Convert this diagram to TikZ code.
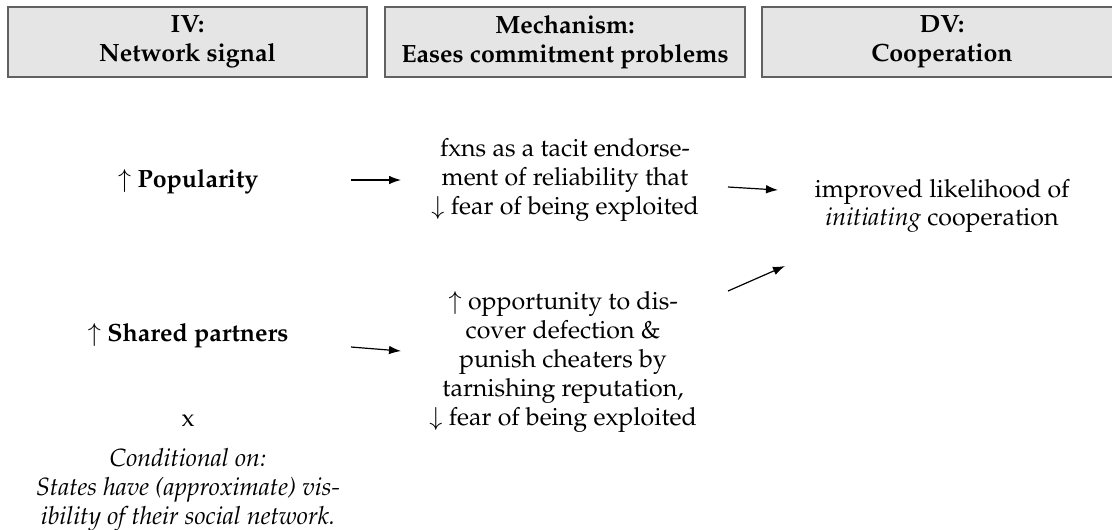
\documentclass[tikz,border=0pt]{standalone}
\usepackage[T1]{fontenc}
\usepackage{mathpazo}
\usetikzlibrary{arrows.meta}
\tikzset{
  hdrbox/.style={draw=black!62, line width=0.8pt, fill=black!10, align=center,
    font=\fontsize{10.4pt}{12pt}\selectfont\bfseries, minimum width=150pt, minimum height=29.2pt, inner sep=0pt},
  txt/.style={align=center, inner sep=0pt, font=\fontsize{10.4pt}{12pt}\selectfont},
  link/.style={line width=0.5pt, -{Latex[length=5pt,width=3.6pt]}}
}

\begin{document}
\begin{tikzpicture}[x=0.41667pt, y=-0.41667pt]
		%%%%% START %%%%%
		\useasboundingbox (0, 0) rectangle (1112, 529);
		
		% header boxes
		\node[hdrbox, minimum width=149.6pt] (hdrIV) at (187.5, 42) {IV:\\Network signal};
		\node[hdrbox] (hdrMech) at (565, 42) {Mechanism:\\Eases commitment problems};
		\node[hdrbox] (hdrDV) at (942, 42) {DV:\\Cooperation};
		
		% signals
		\node[txt] (pop) at (188, 182) {$\uparrow$ \textbf{Popularity}};
		\node[txt] (shared) at (188, 336) {$\uparrow$ \textbf{Shared partners}};
		\node[txt] (times) at (188, 420) {x};
		\node[txt, font=\fontsize{10.4pt}{12pt}\selectfont\itshape] (cond) at (188, 490) {Conditional on:\\States have (approximate) vis-\\ibility of their social network.};
		
		% mechanisms
		\node[txt] (mechA) at (565, 180) {fxns as a tacit endorse-\\ment of reliability that\\$\downarrow$ fear of being exploited};
		\node[txt] (mechB) at (563, 362) {$\uparrow$ opportunity to dis-\\cover defection \&\\punish cheaters by\\tarnishing reputation,\\$\downarrow$ fear of being exploited};
		
		% outcome
		\node[txt] (dv) at (942, 206) {improved likelihood of\\\textit{initiating} cooperation};
		
		% arrows
		\coordinate (popR) at (351, 180);
		\coordinate (mechAL) at (401, 180);
		\coordinate (mechAR) at (728, 187);
		\coordinate (dvLa) at (778, 190);
		\coordinate (sharedR) at (351, 347);
		\coordinate (mechBL) at (401, 351);
		\coordinate (mechBR) at (728, 291);
		\coordinate (dvLb) at (785, 266);
		
		\draw[link] (popR) -- (mechAL);
		\draw[link] (mechAR) -- (dvLa);
		\draw[link] (sharedR) -- (mechBL);
		\draw[link] (mechBR) -- (dvLb);
		%%%%% END %%%%%
	\end{tikzpicture}
\end{document}
